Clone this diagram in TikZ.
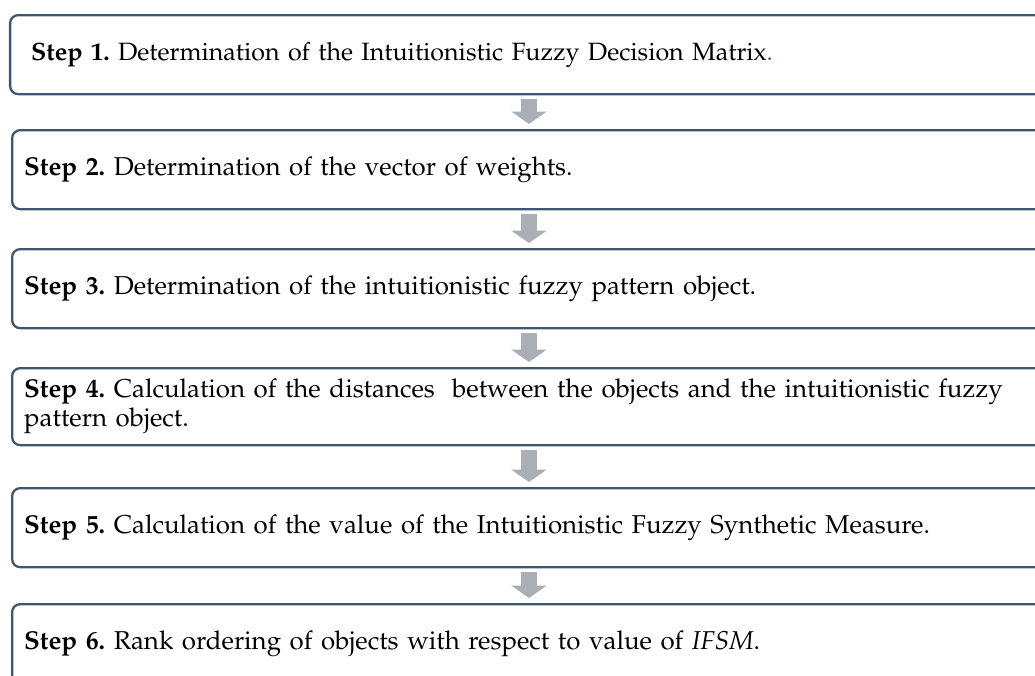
\documentclass[tikz,border=0pt]{standalone}
\usepackage[T1]{fontenc}
\usepackage{mathpazo}
\usetikzlibrary{arrows.meta, positioning}
\definecolor{boxline}{RGB}{64,85,111}
\definecolor{flowgray}{RGB}{170,174,181}

\tikzset{
  stepbox/.style={draw=boxline, line width=1.3pt, rounded corners=0.16cm,
    minimum height=1.58cm, inner xsep=0.24cm, text width=20.72cm,
    align=left, anchor=north west,
    font=\fontsize{14.7}{16.6}\selectfont\frenchspacing},
  flow/.style={flowgray, line width=0.32cm, shorten <=0.07cm, shorten >=0.1cm,
    -{Triangle[width=0.7cm, length=0.25cm]}}
}

\begin{document}
\begin{tikzpicture}
\useasboundingbox (0,0) rectangle (20.7,-13.5);
\clip (0,0) rectangle (20.7,-13.5);
% the six steps, cut off on the right
\node[stepbox, inner xsep=0.42cm, text width=20.36cm,
  font=\fontsize{14.25}{16.6}\selectfont\frenchspacing] (s1) at (0.18,-0.28)
  {\textbf{Step 1.} Determination of the Intuitionistic Fuzzy Decision Matrix{\color{boxline}.}};
\node[stepbox] (s2) at (0.22,-2.58)
  {\textbf{Step 2.} Determination of the vector of weights.};
\node[stepbox] (s3) at (0.22,-4.96)
  {\textbf{Step 3.} Determination of the intuitionistic fuzzy pattern object.};
\node[stepbox, minimum height=1.54cm] (s4) at (0.22,-7.34)
  {\textbf{Step 4.} Calculation of the distances\ \ between the objects and the intuitionistic fuzzy\\
   pattern object.};
\node[stepbox] (s5) at (0.22,-9.74)
  {\textbf{Step 5.} Calculation of the value of the Intuitionistic Fuzzy Synthetic Measure.};
\node[stepbox] (s6) at (0.22,-12.06)
  {\textbf{Step 6.} Rank ordering of objects with respect to value of \textit{IFSM}.};
% arrows
\coordinate (ax) at (10.58,0);
\foreach \a/\b in {s1/s2, s2/s3, s3/s4, s4/s5, s5/s6} {
  \draw[flow] (\a.south -| ax) -- (\b.north -| ax);
}
\end{tikzpicture}
\end{document}
